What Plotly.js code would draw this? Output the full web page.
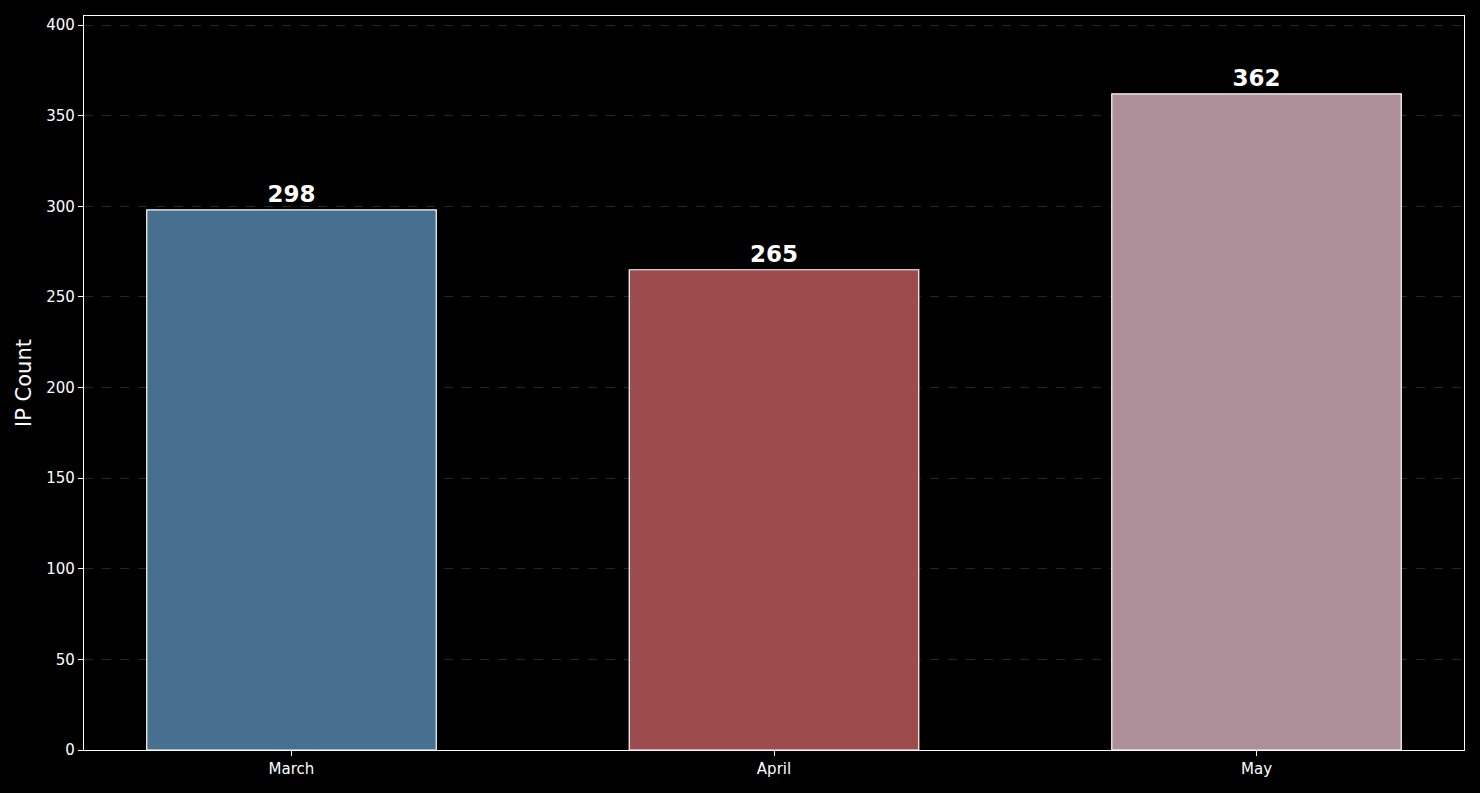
<!DOCTYPE html>
<html><head><meta charset="utf-8">
<script src="https://cdn.plot.ly/plotly-3.0.1.min.js"></script>
<style>html,body{margin:0;padding:0;background:#000;}#chart{width:1480px;height:793px;}</style>
</head><body><div id="chart"></div>
<script>
const months = ["March", "April", "May"];
const ipCounts = [298, 265, 362];
const barColors = ["#47708f", "#9e4b4d", "#ad8f99"];

const trace = {
  type: "bar",
  x: months,
  y: ipCounts,
  width: 0.6,
  marker: {color: barColors, line: {color: "#ffffff", width: 1.2}},
  text: ipCounts.map(String),
  textposition: "outside",
  cliponaxis: false,
  textfont: {family: "DejaVu Sans", size: 23, color: "#ffffff", weight: "bold"},
  hoverinfo: "none"
};

const layout = {
  width: 1480, height: 793,
  paper_bgcolor: "#000000", plot_bgcolor: "#000000",
  margin: {l: 84, r: 16, t: 16, b: 43},
  showlegend: false,
  font: {family: "DejaVu Sans", color: "#ffffff", size: 15},
  xaxis: {
    range: [-0.43, 2.43], showgrid: false, showline: true, mirror: true,
    linecolor: "#ffffff", linewidth: 1.2, ticks: "outside", ticklen: 5, tickcolor: "#ffffff",
    tickfont: {size: 15, color: "#ffffff"}, zeroline: false
  },
  yaxis: {
    range: [0, 405], dtick: 50, showline: true, mirror: true,
    linecolor: "#ffffff", linewidth: 1.2, ticks: "outside", ticklen: 5, tickcolor: "#ffffff",
    tickfont: {size: 15, color: "#ffffff"},
    showgrid: true, gridcolor: "#262626", griddash: "dash", gridwidth: 1, zeroline: false,
    title: {text: "IP Count", font: {size: 21, color: "#ffffff"}, standoff: 8}
  },
  bargap: 0.4
};

Plotly.newPlot("chart", [trace], layout, {displayModeBar: false, staticPlot: true});
</script></body></html>
